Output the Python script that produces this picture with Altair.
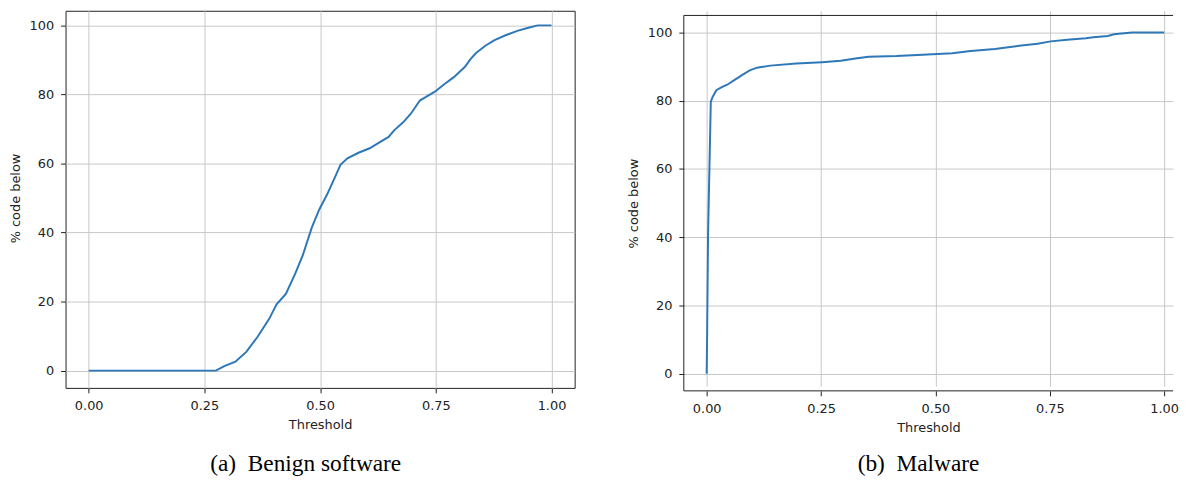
import altair as alt
import pandas as pd

# ---- data ----
benign_threshold = [0.0, 0.275, 0.293, 0.317, 0.341, 0.365, 0.390, 0.406, 0.426, 0.446,
                    0.462, 0.482, 0.498, 0.515, 0.531, 0.544, 0.559, 0.583, 0.607, 0.631,
                    0.648, 0.660, 0.680, 0.696, 0.716, 0.728, 0.748, 0.769, 0.789, 0.813,
                    0.825, 0.837, 0.857, 0.877, 0.902, 0.926, 0.950, 0.970, 1.0]
benign_pct = [0.0, 0.0, 1.3, 2.6, 5.5, 9.8, 15.0, 19.2, 22.2, 28.0,
              33.2, 41.4, 46.6, 51.0, 55.7, 59.6, 61.5, 63.1, 64.4, 66.3,
              67.7, 69.6, 72.0, 74.4, 78.3, 79.2, 80.8, 83.0, 85.0, 88.0,
              90.2, 92.0, 94.1, 95.7, 97.2, 98.4, 99.3, 100.0, 100.0]

malware_threshold = [0.0, 0.001, 0.003, 0.009, 0.013, 0.021, 0.033, 0.045, 0.062, 0.078,
                     0.094, 0.110, 0.139, 0.196, 0.252, 0.293, 0.325, 0.354, 0.415, 0.472,
                     0.537, 0.577, 0.630, 0.683, 0.723, 0.752, 0.788, 0.829, 0.845, 0.877,
                     0.890, 0.930, 1.0]
malware_pct = [0.0, 11.8, 40.9, 79.7, 81.1, 83.1, 84.0, 84.7, 86.2, 87.6,
               88.9, 89.7, 90.3, 90.9, 91.3, 91.7, 92.4, 92.9, 93.1, 93.5,
               93.9, 94.6, 95.2, 96.1, 96.7, 97.4, 97.9, 98.3, 98.6, 99.0,
               99.5, 100.0, 100.0]

x_ticks = [0.0, 0.25, 0.5, 0.75, 1.0]
y_ticks = [0, 20, 40, 60, 80, 100]
captions = ["(a)\u2002Benign software", "(b)\u2002Malware"]
x_title = "Threshold"
y_title = "% code below"

LINE = "#2e78b8"
GRID = "#c8c8c8"
INK = "#222222"


def x_axis():
    return alt.Axis(values=x_ticks, format=".2f", title=x_title, grid=True,
                    gridColor=GRID, gridWidth=1, domain=False, tickColor=INK,
                    tickSize=5, labelPadding=7, titlePadding=6,
                    labelFlush=False, labelOverlap=False)


def y_axis():
    return alt.Axis(values=y_ticks, format="d", title=y_title, grid=True,
                    gridColor=GRID, gridWidth=1, domain=False, tickColor=INK,
                    tickSize=5, labelPadding=7, titlePadding=7,
                    labelFlush=False, labelOverlap=False)


def panel(ts, ps, xmax, caption, cap_x, cap_y, w, h, y_top, framed=False):
    df = pd.DataFrame({"t": ts, "p": ps})
    yscale = alt.Scale(domain=[-5, 105], nice=False, zero=False, range=[h, y_top])
    line = alt.Chart(df).mark_line(color=LINE, strokeWidth=2, clip=True).encode(
        x=alt.X("t:Q", scale=alt.Scale(domain=[-0.05, xmax], nice=False, zero=False),
                axis=x_axis()),
        y=alt.Y("p:Q", scale=yscale, axis=y_axis()),
    )
    cap = alt.Chart(pd.DataFrame({"c": [caption]})).mark_text(
        font="Liberation Serif", fontSize=23.5, color="black",
        align="center", baseline="middle").encode(
        x=alt.value(cap_x), y=alt.value(cap_y), text="c:N")
    layers = [line, cap]
    if framed:
        one = pd.DataFrame({"a": [0]})
        frame_left = alt.Chart(one).mark_rule(color=INK, strokeWidth=1).encode(
            x=alt.value(0), y=alt.value(y_top), y2=alt.value(h))
        frame_top = alt.Chart(one).mark_rule(color=INK, strokeWidth=1).encode(
            x=alt.value(0), x2=alt.value(w), y=alt.value(y_top))
        frame_bot = alt.Chart(one).mark_rule(color=INK, strokeWidth=1).encode(
            x=alt.value(0), x2=alt.value(w), y=alt.value(h))
        layers = [frame_left, frame_top, frame_bot] + layers
        return alt.layer(*layers).properties(
            width=w, height=h, view=alt.ViewBackground(strokeOpacity=0))
    return alt.layer(*layers).properties(width=w, height=h)


left = panel(benign_threshold, benign_pct, 1.05, captions[0], 242, 457, 513, 380, -2.7)
right = panel(malware_threshold, malware_pct, 1.0194, captions[1], 236.5, 457, 493, 383,
              4.7, framed=True)

chart = alt.hconcat(left, right, spacing=52).properties(
    padding={"left": 0, "top": 0, "right": 0, "bottom": 0},
    background="white"
).configure_view(stroke=INK, strokeWidth=1).configure_axis(
    labelFont="DejaVu Sans", labelFontSize=13, labelColor=INK,
    titleFont="DejaVu Sans", titleFontSize=13, titleColor=INK,
    titleFontWeight="normal", tickWidth=1
)

chart.save("out.html", embed_options={"renderer": "svg", "actions": False})
